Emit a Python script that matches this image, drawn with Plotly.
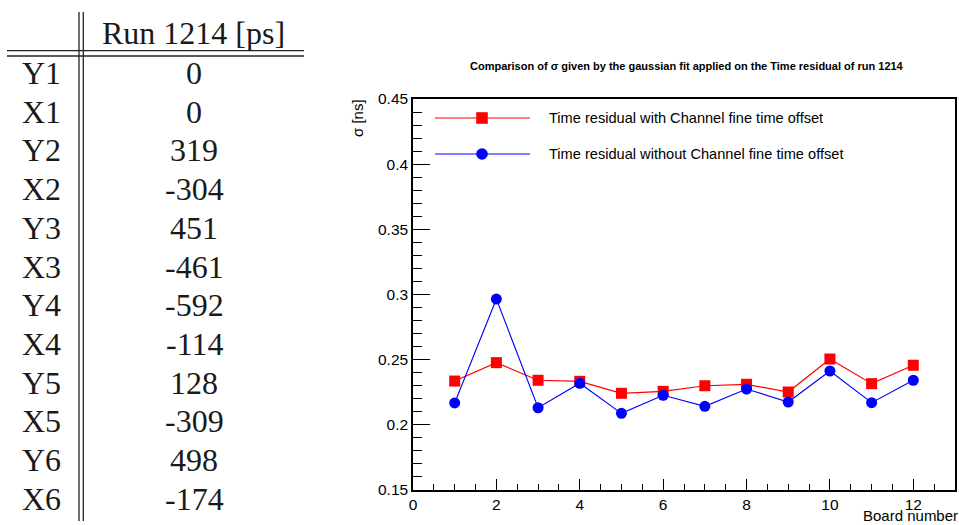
import plotly.graph_objects as go

# Channel offsets table (run 1214, in ps)
channel_labels = ["Y1", "X1", "Y2", "X2", "Y3", "X3", "Y4", "X4", "Y5", "X5", "Y6", "X6"]
channel_offsets = [0, 0, 319, -304, 451, -461, -592, -114, 128, -309, 498, -174]
table_header = "Run 1214 [ps]"

# Sigma of the gaussian fit per board [ns]
boards = [1, 2, 3, 4, 5, 6, 7, 8, 9, 10, 11, 12]
sigma_with_offset = [0.2336, 0.2477, 0.2342, 0.2334, 0.2242, 0.2257,
                     0.2300, 0.2311, 0.2252, 0.2505, 0.2316, 0.2457]
sigma_without_offset = [0.2168, 0.2965, 0.2131, 0.2319, 0.2088, 0.2227,
                        0.2142, 0.2275, 0.2175, 0.2413, 0.2170, 0.2342]

series_names = ["Time residual with Channel fine time offset",
                "Time residual without Channel fine time offset"]
x_ticks = [0, 2, 4, 6, 8, 10, 12]
y_ticks = [0.15, 0.2, 0.25, 0.3, 0.35, 0.4, 0.45]
y_tick_text = ["0.15", "0.2", "0.25", "0.3", "0.35", "0.4", "0.45"]

W, H = 959, 525


def px(x):
    return x / W


def py(y):
    return 1 - y / H


fig = go.Figure()
fig.add_trace(go.Scatter(
    x=boards, y=sigma_with_offset, mode="lines+markers", name=series_names[0],
    line=dict(color="#ff0000", width=1.2),
    marker=dict(symbol="square", size=11, color="#ff0000"),
))
fig.add_trace(go.Scatter(
    x=boards, y=sigma_without_offset, mode="lines+markers", name=series_names[1],
    line=dict(color="#0000ff", width=1.1),
    marker=dict(symbol="circle", size=11, color="#0000ff"),
))

sans = "Liberation Sans, Arial"
axis_font = dict(family=sans, size=15.5, color="black")

fig.update_layout(
    width=W, height=H,
    margin=dict(l=0, r=0, t=0, b=0, autoexpand=False),
    paper_bgcolor="white", plot_bgcolor="white",
    showlegend=False,
    xaxis=dict(
        domain=[px(413), px(955)], range=[0, 13], automargin=False,
        tickmode="array", tickvals=x_ticks, ticktext=[str(v) for v in x_ticks],
        ticks="inside", ticklen=11, tickwidth=1, tickcolor="black",
        minor=dict(dtick=0.5, tick0=0, ticks="inside", ticklen=6, tickwidth=1, tickcolor="black"),
        showline=True, linecolor="black", linewidth=1.5, mirror=True,
        showgrid=False, zeroline=False, tickfont=axis_font,
    ),
    yaxis=dict(
        domain=[py(490), py(99)], range=[0.15, 0.45], automargin=False,
        tickmode="array", tickvals=y_ticks, ticktext=y_tick_text,
        ticks="inside", ticklen=17, tickwidth=1, tickcolor="black",
        minor=dict(dtick=0.01, tick0=0.15, ticks="inside", ticklen=9, tickwidth=1, tickcolor="black"),
        showline=True, linecolor="black", linewidth=1.5, mirror=True,
        showgrid=False, zeroline=False, tickfont=axis_font,
    ),
)

annotations = []
shapes = []

# ---- table (left) ----
serif = dict(family="Liberation Serif, Times New Roman, serif", size=32, color="#1a1a1a")
annotations.append(dict(x=px(193), y=py(33), xref="paper", yref="paper", text=table_header,
                        showarrow=False, xanchor="center", yanchor="middle", font=serif))
row_y0, row_step = 73, 38.7
for i, (lab, val) in enumerate(zip(channel_labels, channel_offsets)):
    yc = row_y0 + i * row_step
    annotations.append(dict(x=px(41), y=py(yc), xref="paper", yref="paper", text=lab,
                            showarrow=False, xanchor="center", yanchor="middle", font=serif))
    annotations.append(dict(x=px(194), y=py(yc), xref="paper", yref="paper", text=str(val),
                            showarrow=False, xanchor="center", yanchor="middle", font=serif))

rule = dict(color="#222222", width=1.3)
for yy in (50.7, 56):
    shapes.append(dict(type="line", xref="paper", yref="paper",
                       x0=px(7), x1=px(304), y0=py(yy), y1=py(yy), line=rule))
for xx in (79, 83.3):
    shapes.append(dict(type="line", xref="paper", yref="paper",
                       x0=px(xx), x1=px(xx), y0=py(12), y1=py(521), line=rule))

# ---- plot texts ----
annotations.append(dict(
    x=px(687), y=py(66), xref="paper", yref="paper",
    text="<b>Comparison of σ given by the gaussian fit applied on the Time residual of run 1214</b>",
    showarrow=False, xanchor="center", yanchor="middle",
    font=dict(family=sans, size=11, color="black")))
annotations.append(dict(
    x=px(357), y=py(97), xref="paper", yref="paper", text="σ [ns]", textangle=-90,
    showarrow=False, xanchor="center", yanchor="top", font=dict(family=sans, size=15, color="black")))
annotations.append(dict(
    x=px(959), y=0, xref="paper", yref="paper", text="Board number",
    showarrow=False, xanchor="right", yanchor="bottom", borderpad=0,
    font=dict(family=sans, size=15, color="black")))

# ---- legend ----
legend_rows = [(118, "#ff0000", "square"), (154, "#0000ff", "circle")]
for (ly, col, sym), name in zip(legend_rows, series_names):
    shapes.append(dict(type="line", xref="paper", yref="paper",
                       x0=px(435), x1=px(530), y0=py(ly), y1=py(ly),
                       line=dict(color=col, width=1.2)))
    r = 5.8
    shapes.append(dict(type="rect" if sym == "square" else "circle",
                       xref="paper", yref="paper",
                       x0=px(482 - r), x1=px(482 + r), y0=py(ly + r), y1=py(ly - r),
                       fillcolor=col, line=dict(color=col, width=0)))
    annotations.append(dict(x=px(547), y=py(ly), xref="paper", yref="paper", text=name,
                            showarrow=False, xanchor="left", yanchor="middle",
                            font=dict(family=sans, size=14.6, color="black")))

fig.update_layout(annotations=annotations, shapes=shapes)
fig.write_html("out.html")
